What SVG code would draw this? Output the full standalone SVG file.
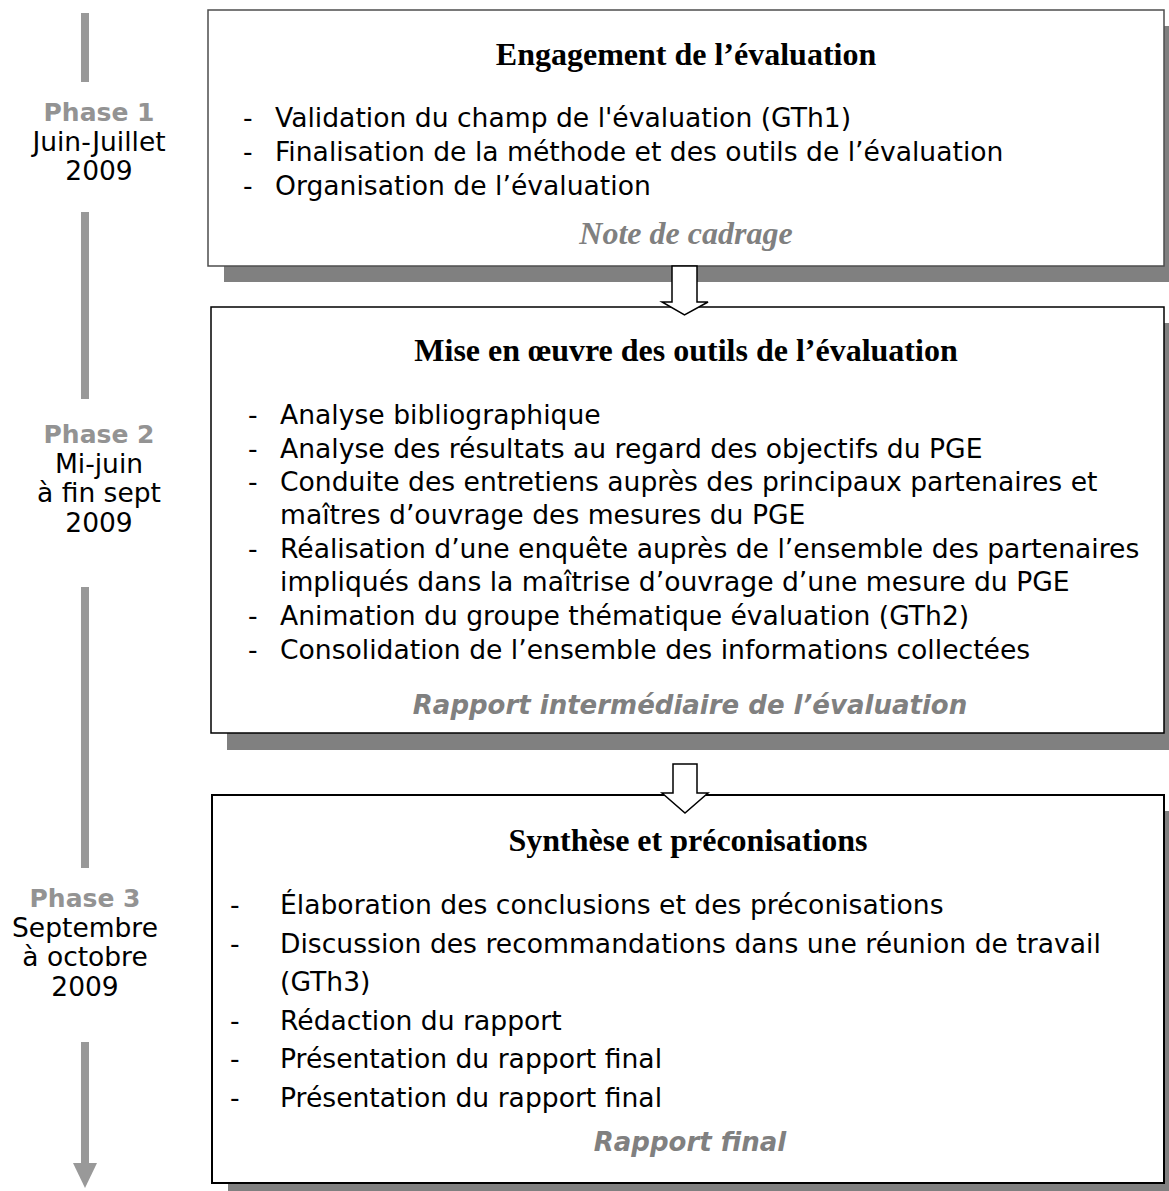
<svg xmlns="http://www.w3.org/2000/svg" width="1169" height="1191" viewBox="0 0 1169 1191">
<style>
.shadow{fill:#808080}
.box{fill:#fff}
.title{font-family:"Liberation Serif","Times New Roman",serif;font-weight:bold;font-size:32px;fill:#000;text-anchor:middle}
.body{font-family:"DejaVu Sans",Verdana,sans-serif;font-size:26.6px;fill:#000}
.out-serif{font-family:"Liberation Serif","Times New Roman",serif;font-weight:bold;font-style:italic;font-size:32px;fill:#808080;text-anchor:middle}
.out-sans{font-family:"DejaVu Sans",Verdana,sans-serif;font-weight:bold;font-style:italic;font-size:26px;fill:#808080;text-anchor:middle}
.phase{font-family:"DejaVu Sans",Verdana,sans-serif;font-weight:bold;font-size:25px;fill:#939393;text-anchor:middle}
.date{font-family:"DejaVu Sans",Verdana,sans-serif;font-size:26.5px;fill:#000;text-anchor:middle}
.tl{fill:#999}
.blk{fill:#fff;stroke:#000;stroke-width:1.5;stroke-linejoin:miter}
</style>
<rect width="1169" height="1191" fill="#fff"/>

<g id="timeline">
<rect class="tl" x="81" y="13" width="8" height="69"/>
<rect class="tl" x="81" y="212" width="8" height="187"/>
<rect class="tl" x="81" y="587" width="8" height="281"/>
<rect class="tl" x="81" y="1042" width="8" height="122"/>
<polygon class="tl" points="73,1163 97,1163 85,1188"/>
</g>

<g id="phase1">
<text class="phase" x="99" y="121">Phase 1</text>
<text class="date" x="99" y="150.5">Juin-Juillet</text>
<text class="date" x="99" y="180">2009</text>
</g>
<g id="phase2">
<text class="phase" x="99" y="443">Phase 2</text>
<text class="date" x="99" y="472.5">Mi-juin</text>
<text class="date" x="99" y="502">à fin sept</text>
<text class="date" x="99" y="531.5">2009</text>
</g>
<g id="phase3">
<text class="phase" x="85" y="907">Phase 3</text>
<text class="date" x="85" y="936.5">Septembre</text>
<text class="date" x="85" y="966">à octobre</text>
<text class="date" x="85" y="995.5">2009</text>
</g>

<g id="box1">
<rect class="shadow" x="224" y="26" width="956" height="256"/>
<rect class="box" x="208" y="10" width="956" height="256" stroke="#4d4d4d" stroke-width="1.5"/>
<text class="title" x="686" y="65">Engagement de l’évaluation</text>
<text class="body" x="243" y="127">-</text><text class="body" x="275" y="127">Validation du champ de l'évaluation (GTh1)</text>
<text class="body" x="243" y="161">-</text><text class="body" x="275" y="161">Finalisation de la méthode et des outils de l’évaluation</text>
<text class="body" x="243" y="195">-</text><text class="body" x="275" y="195">Organisation de l’évaluation</text>
<text class="out-serif" x="686" y="244">Note de cadrage</text>
</g>

<g id="box2">
<rect class="shadow" x="227" y="323" width="956" height="427"/>
<rect class="box" x="211" y="307" width="953" height="426" stroke="#000" stroke-width="1.5"/>
<text class="title" x="686" y="361">Mise en œuvre des outils de l’évaluation</text>
<text class="body" x="248" y="424">-</text><text class="body" x="280" y="424">Analyse bibliographique</text>
<text class="body" x="248" y="458">-</text><text class="body" x="280" y="458">Analyse des résultats au regard des objectifs du PGE</text>
<text class="body" x="248" y="491">-</text><text class="body" x="280" y="491">Conduite des entretiens auprès des principaux partenaires et</text>
<text class="body" x="280" y="524">maîtres d’ouvrage des mesures du PGE</text>
<text class="body" x="248" y="558">-</text><text class="body" x="280" y="558">Réalisation d’une enquête auprès de l’ensemble des partenaires</text>
<text class="body" x="280" y="591">impliqués dans la maîtrise d’ouvrage d’une mesure du PGE</text>
<text class="body" x="248" y="625">-</text><text class="body" x="280" y="625">Animation du groupe thématique évaluation (GTh2)</text>
<text class="body" x="248" y="659">-</text><text class="body" x="280" y="659">Consolidation de l’ensemble des informations collectées</text>
<text class="out-sans" x="690" y="714">Rapport intermédiaire de l’évaluation</text>
</g>

<g id="box3">
<rect class="shadow" x="228" y="811" width="956" height="388"/>
<rect class="box" x="212" y="795" width="952" height="388" stroke="#000" stroke-width="2"/>
<text class="title" x="688" y="851">Synthèse et préconisations</text>
<text class="body" x="230" y="914">-</text><text class="body" x="280" y="914">Élaboration des conclusions et des préconisations</text>
<text class="body" x="230" y="953">-</text><text class="body" x="280" y="953">Discussion des recommandations dans une réunion de travail</text>
<text class="body" x="280" y="991">(GTh3)</text>
<text class="body" x="230" y="1030">-</text><text class="body" x="280" y="1030">Rédaction du rapport</text>
<text class="body" x="230" y="1068">-</text><text class="body" x="280" y="1068">Présentation du rapport final</text>
<text class="body" x="230" y="1107">-</text><text class="body" x="280" y="1107">Présentation du rapport final</text>
<text class="out-sans" x="690" y="1151">Rapport final</text>
</g>

<g id="connectors">
<polygon class="blk" points="672,266 697,266 697,302 708,302 684.5,315 662,302 672,302"/>
<polygon class="blk" points="673,764 697,764 697,793 708,793 685,813 662,793 673,793"/>
</g>
</svg>
